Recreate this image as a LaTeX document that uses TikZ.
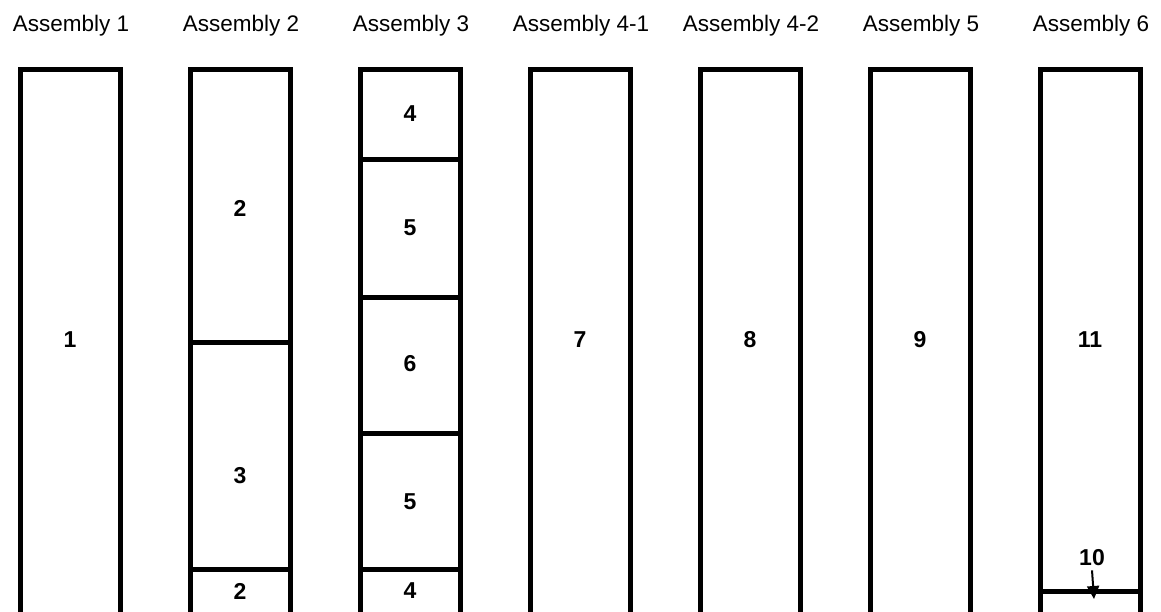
\documentclass[tikz,border=0pt]{standalone}
\usepackage{fontspec}
\setmainfont{Liberation Sans}
\usetikzlibrary{arrows.meta}
\begin{document}
\begin{tikzpicture}[x=1pt,y=-1pt,
  col/.style={line width=5pt, line join=miter},
  divider/.style={line width=5pt},
  title/.style={anchor=base, inner sep=0pt, font=\fontsize{22.5}{26}\selectfont},
  num/.style={inner sep=0pt, font=\fontsize{23}{26}\selectfont\bfseries},
  pointer/.style={line width=2pt, -{Triangle[length=13pt,width=12pt]}}]
\useasboundingbox (0,0) rectangle (1161,612);
\clip (0,0) rectangle (1161,612);
% titles
\foreach \cx/\t [count=\i] in {71/Assembly 1, 241/Assembly 2, 411/Assembly 3, 581/Assembly 4-1, 751/Assembly 4-2, 921/Assembly 5, 1091/Assembly 6}
  \node[title] (t\i) at (\cx,32) {\t};
% columns (open at the bottom)
\foreach \lx [count=\i] in {20,190,360,530,700,870,1040}
  \draw[col] (\lx,640) -- (\lx,70) -- (\lx+100,70) -- (\lx+100,640);
% assembly 2 dividers
\draw[divider] (190,342) -- (293,342);
\draw[divider] (190,569) -- (293,569);
% assembly 3 dividers
\foreach \y in {160,297,433,569}
  \draw[divider] (360,\y) -- (461,\y);
% assembly 6 divider
\draw[divider] (1040,591) -- (1140,591);
% labels
\node[num] (n1) at (70,340) {1};
\node[num] (n2a) at (240,208) {2};
\node[num] (n3) at (240,476) {3};
\node[num] (n2b) at (240,591) {2};
\node[num] (n4a) at (410,114) {4};
\node[num] (n5a) at (410,228) {5};
\node[num] (n6) at (410,364) {6};
\node[num] (n5b) at (410,502) {5};
\node[num] (n4b) at (410,591) {4};
\node[num] (n7) at (580,340) {7};
\node[num] (n8) at (750,340) {8};
\node[num] (n9) at (920,340) {9};
\node[num] (n11) at (1090,340) {11};
\node[num] (n10) at (1092,558) {10};
\coordinate (p10) at (1094,599);
\draw[pointer] ([yshift=-4pt]n10.south) -- (p10);
\end{tikzpicture}
\end{document}
